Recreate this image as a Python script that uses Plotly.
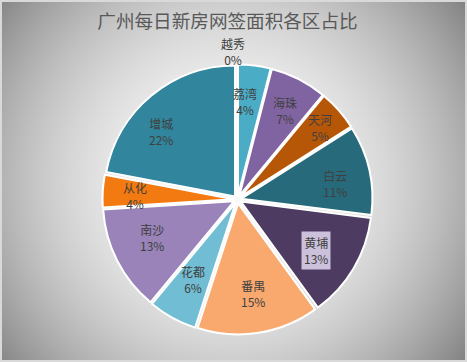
import zlib, struct, base64
import plotly.graph_objects as go

# ---- data ----
districts = ["越秀", "荔湾", "海珠", "天河", "白云", "黄埔", "番禺", "花都", "南沙", "从化", "增城"]
shares = [0, 4, 7, 5, 11, 13, 15, 6, 13, 4, 22]
colors = ["#4F81BD", "#4BACC6", "#8064A2", "#B65708", "#276A7C", "#4D3B62",
          "#F9A86E", "#71BDD3", "#9983B9", "#F27A10", "#31859C"]
title_text = "广州每日新房网签面积各区占比"

# data-label anchor positions (pixels in the 467x362 canvas), styling only
label_pos = {
    "越秀": (233, 52), "荔湾": (245, 101), "海珠": (285, 110), "天河": (320, 127),
    "白云": (335, 183), "黄埔": (316, 250), "番禺": (253, 293), "花都": (193, 279),
    "南沙": (152, 237), "从化": (135, 196), "增城": (161, 132),
}

W, H = 467, 362

# ---- radial gradient background as PNG ----
def make_bg():
    rows = []
    for y in range(H):
        row = bytearray([0])
        for x in range(W):
            if x <= 1 or y <= 1 or x >= W - 2 or y >= H - 2:
                v = 217
            else:
                d2 = (x - 229) ** 2 + (y - 181) ** 2
                v = max(0, min(255, int(249 - 0.001346 * d2)))
            row.append(v)
        rows.append(bytes(row))
    raw = b"".join(rows)

    def chunk(t, d):
        c = struct.pack(">I", len(d)) + t + d
        return c + struct.pack(">I", zlib.crc32(t + d) & 0xffffffff)

    png = (b"\x89PNG\r\n\x1a\n"
           + chunk(b"IHDR", struct.pack(">IIBBBBB", W, H, 8, 0, 0, 0, 0))
           + chunk(b"IDAT", zlib.compress(raw, 9))
           + chunk(b"IEND", b""))
    return "data:image/png;base64," + base64.b64encode(png).decode()

# ---- pie geometry ----
cx_px, cy_px = 237.5, 199.5
half = 135.0
pull = 0.03
dom_x = [(cx_px - half) / W, (cx_px + half) / W]
dom_y = [1 - (cy_px + half) / H, 1 - (cy_px - half) / H]

fig = go.Figure(go.Pie(
    labels=districts,
    values=shares,
    sort=False,
    direction="clockwise",
    rotation=0,
    pull=[pull] * len(shares),
    marker=dict(colors=colors, line=dict(color="white", width=2)),
    textinfo="none",
    domain=dict(x=dom_x, y=dom_y),
    showlegend=False,
))

font_family = "Noto Sans CJK SC, Noto Sans, sans-serif"
annotations = []
for name, v in zip(districts, shares):
    px, py = label_pos[name]
    ann = dict(
        x=px / W, y=1 - py / H, xref="paper", yref="paper",
        xanchor="center", yanchor="middle",
        text=f"{name}<br>{v}%", showarrow=False,
        font=dict(size=12, color="#404040", family=font_family))
    if name == "黄埔":
        ann.update(bgcolor="#CCC1DA", borderpad=2)
    annotations.append(ann)

fig.update_layout(
    width=W, height=H,
    margin=dict(l=0, r=0, t=0, b=0),
    paper_bgcolor="rgba(0,0,0,0)",
    plot_bgcolor="rgba(0,0,0,0)",
    title=dict(text=title_text, x=227.5 / W, y=1 - 21 / H, xanchor="center", yanchor="middle",
               font=dict(size=18.6, color="#595959", family=font_family)),
    images=[dict(source=make_bg(), xref="paper", yref="paper", x=0, y=1,
                 sizex=1, sizey=1, sizing="stretch", layer="below", xanchor="left", yanchor="top")],
    annotations=annotations,
)

fig.write_html("out.html")
